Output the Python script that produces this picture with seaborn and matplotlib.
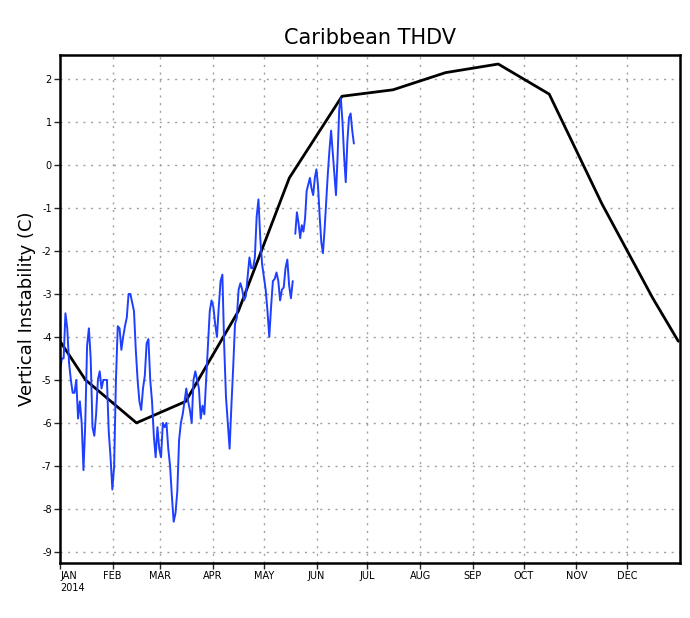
import numpy as np
import pandas as pd
import matplotlib
matplotlib.use("Agg")
import matplotlib.pyplot as plt
import seaborn as sns

# climatology (mid-month values), day of year
clim_day = [0, 15, 45, 74, 105, 135, 166, 196, 227, 258, 288, 319, 349, 364]
clim_val = [-4.1, -5.0, -6.0, -5.5, -3.4, -0.3, 1.6, 1.75, 2.15, 2.35, 1.65, -0.9, -3.1, -4.1]

# 2014 daily observations, two pieces with a short gap
obs1 = [-4.8, -4.5, -4.5, -3.45, -3.8, -4.6, -5.0, -5.3, -5.3, -5.0, -5.9, -5.5, -6.0, -7.1,
        -6.0, -4.2, -3.8, -4.5, -6.1, -6.3, -5.8, -5.0, -4.8, -5.2, -5.0, -5.0, -5.0, -6.2,
        -6.8, -7.55, -7.0, -5.0, -3.75, -3.8, -4.3, -4.0, -3.75, -3.55, -3.0, -3.0, -3.2, -3.4,
        -4.3, -5.0, -5.5, -5.7, -5.2, -4.9, -4.15, -4.05, -5.0, -5.5, -6.3, -6.8, -6.1, -6.6,
        -6.8, -6.0, -6.1, -6.0, -6.6, -7.0, -7.7, -8.3, -8.1, -7.6, -6.4, -6.0, -5.8, -5.5,
        -5.2, -5.5, -5.7, -6.0, -5.0, -4.8, -5.0, -5.2, -5.9, -5.6, -5.8, -5.0, -4.2, -3.4,
        -3.15, -3.3, -3.7, -4.0, -3.3, -2.7, -2.55, -4.2, -5.4, -6.0, -6.6, -5.6, -4.7, -3.7,
        -3.55, -2.9, -2.75, -2.9, -3.15, -3.05, -2.6, -2.15, -2.4, -2.4, -2.15, -1.2, -0.8,
        -1.7, -2.3, -2.6, -2.9, -3.4, -4.0, -3.3, -2.7, -2.65, -2.5, -2.7, -3.15, -2.9, -2.85,
        -2.4, -2.2, -2.8, -3.1, -2.7]
obs2 = [-1.6, -1.1, -1.35, -1.7, -1.4, -1.55, -1.25, -0.6, -0.45, -0.3, -0.55, -0.7, -0.3,
        -0.1, -0.5, -1.2, -1.8, -2.05, -1.5, -0.85, -0.2, 0.35, 0.8, 0.3, -0.2, -0.7, 0.2,
        1.3, 1.55, 1.0, 0.2, -0.4, 0.55, 1.1, 1.2, 0.8, 0.5]
obs1_start, obs1_end = 0, 137
obs2_start, obs2_end = 138.5, 173

months = ["JAN\n2014", "FEB", "MAR", "APR", "MAY", "JUN", "JUL", "AUG", "SEP", "OCT", "NOV", "DEC"]
month_start = [0, 31, 59, 90, 120, 151, 181, 212, 243, 273, 304, 334]

sns.set_style("white")
fig = plt.figure(figsize=(6.9, 6.18), dpi=100)
ax = fig.add_axes([0.087, 0.089, 0.8985, 0.822])

d1 = pd.DataFrame({"day": np.linspace(obs1_start, obs1_end, len(obs1)), "val": obs1})
d2 = pd.DataFrame({"day": np.linspace(obs2_start, obs2_end, len(obs2)), "val": obs2})
dc = pd.DataFrame({"day": clim_day, "val": clim_val})

sns.lineplot(data=dc, x="day", y="val", color="black", lw=2, ax=ax)
sns.lineplot(data=d1, x="day", y="val", color="#1f3fff", lw=1.4, ax=ax)
sns.lineplot(data=d2, x="day", y="val", color="#1f3fff", lw=1.4, ax=ax)

ax.set_xlim(0, 365)
ax.set_ylim(-9.26, 2.56)
ax.set_xticks(month_start)
ax.set_xticklabels(months, fontsize=7, ha="center", color="black")
for lab in ax.get_xticklabels()[:1]:
    lab.set_ha("left")
ax.set_yticks(range(-9, 3))
ax.set_yticklabels([str(v) for v in range(-9, 3)], fontsize=7, color="black")
ax.grid(True, color="#a0a0a0", linestyle=(0, (1.5, 4)), lw=1)
ax.tick_params(direction="out", length=4, width=1, pad=2, bottom=True, left=True)
for s in ax.spines.values():
    s.set_linewidth(1.8)
    s.set_color("black")
ax.set_xlabel("")
ax.set_ylabel("Vertical Instability (C)", fontsize=13, color="black")
ax.set_title("Caribbean THDV", fontsize=15, pad=8, color="black")

fig.savefig("out.png", dpi=100)
